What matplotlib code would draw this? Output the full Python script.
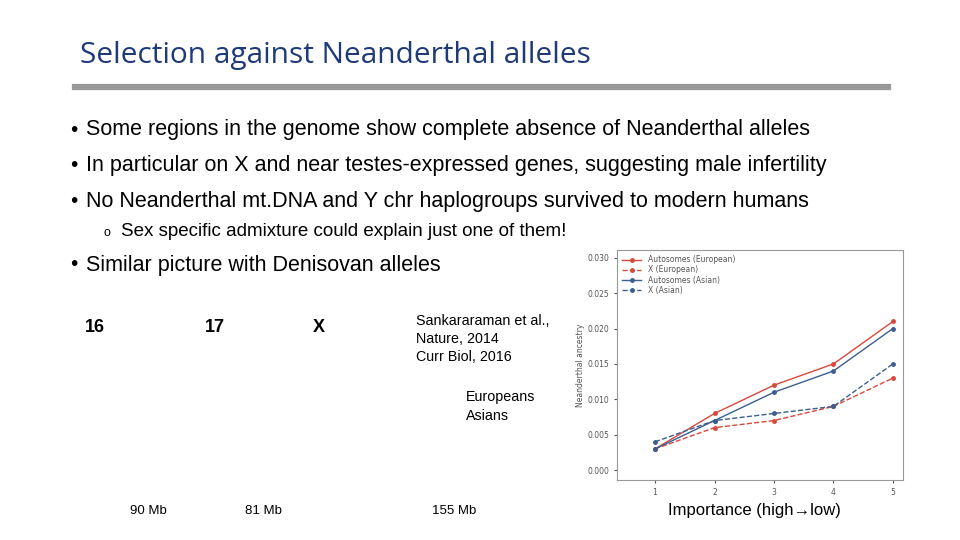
import matplotlib
matplotlib.use("Agg")
import matplotlib.pyplot as plt

x = [1, 2, 3, 4, 5]
auto_eur = [0.003, 0.008, 0.012, 0.015, 0.021]
x_eur = [0.003, 0.006, 0.007, 0.009, 0.013]
auto_asn = [0.003, 0.007, 0.011, 0.014, 0.020]
x_asn = [0.004, 0.007, 0.008, 0.009, 0.015]
yticks = [0.000, 0.005, 0.010, 0.015, 0.020, 0.025, 0.030]

RED = "#d9483b"
BLUE = "#3b5f8f"
fig = plt.figure(figsize=(9.6, 5.4), dpi=100)
fig.patch.set_facecolor("white")

fig.text(80/960, 1-55/540, "Selection against Neanderthal alleles", fontsize=21.5, color="#1f3a7a",
         va="center", family="Open Sans")
fig.add_artist(plt.Line2D([75/960, 888/960], [1-87/540, 1-87/540], color="#999999", lw=4.5))
bul = [(130, "Some regions in the genome show complete absence of Neanderthal alleles"),
       (166, "In particular on X and near testes-expressed genes, suggesting male infertility"),
       (202, "No Neanderthal mt.DNA and Y chr haplogroups survived to modern humans"),
       (265, "Similar picture with Denisovan alleles")]
for yy, t in bul:
    fig.text(70/960, 1-yy/540, "•", fontsize=15, va="center", family="Liberation Sans")
    fig.text(86/960, 1-yy/540, t, fontsize=15.5, va="center", family="Liberation Sans")
fig.text(104/960, 1-233/540, "o", fontsize=9, va="center", family="Liberation Sans")
fig.text(121/960, 1-231/540, "Sex specific admixture could explain just one of them!", fontsize=13.5,
         va="center", family="Liberation Sans")
for yy, t in [(321, "Sankararaman et al.,"), (339, "Nature, 2014"), (357, "Curr Biol, 2016")]:
    fig.text(416/960, 1-yy/540, t, fontsize=10.3, va="center", family="Liberation Sans")
for yy, t in [(397, "Europeans"), (416, "Asians")]:
    fig.text(466/960, 1-yy/540, t, fontsize=10.3, va="center", family="Liberation Sans")
fig.text(668/960, 1-511/540, "Importance (high\u2192low)", fontsize=12, va="center", family="Liberation Sans")

# genome panel labels
for xx, t in [(85, "16"), (205, "17"), (313, "X")]:
    fig.text(xx/960, 1-327/540, t, fontsize=13, weight="bold", va="center", family="Liberation Sans")
for xx, t in [(130, "90 Mb"), (245, "81 Mb"), (432, "155 Mb")]:
    fig.text(xx/960, 1-511/540, t, fontsize=9.5, va="center", family="Liberation Sans")

ax = fig.add_axes([617/960, 60/540, 286/960, 230/540])
ax.plot(x, auto_eur, "-", color=RED, marker="o", ms=2.5, lw=1, label="Autosomes (European)")
ax.plot(x, x_eur, "--", color=RED, marker="o", ms=2.5, lw=1, label="X (European)")
ax.plot(x, auto_asn, "-", color=BLUE, marker="o", ms=2.5, lw=1, label="Autosomes (Asian)")
ax.plot(x, x_asn, "--", color=BLUE, marker="o", ms=2.5, lw=1, label="X (Asian)")
ax.set_xlim(0.36, 5.17)
ax.set_ylim(-0.0014, 0.0311)
ax.set_xticks(x)
ax.set_yticks(yticks)
ax.set_yticklabels([f"{v:.3f}" for v in yticks])
ax.tick_params(labelsize=5.5, colors="#555555", length=2)
ax.set_ylabel("Neanderthal ancestry", fontsize=5.5, color="#555555", labelpad=2)
for s in ax.spines.values():
    s.set_color("#999999")
ax.legend(loc="upper left", fontsize=5.5, frameon=False, handlelength=2.5, labelspacing=0.15,
          borderaxespad=0.3, labelcolor="#555555")
fig.savefig("out.png", dpi=100)
